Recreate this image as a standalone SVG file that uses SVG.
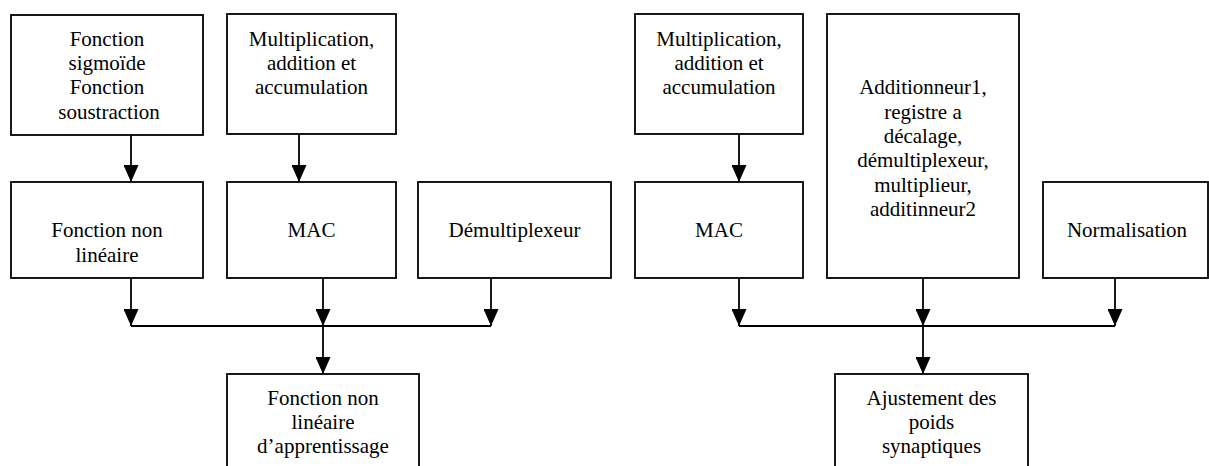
<svg xmlns="http://www.w3.org/2000/svg" width="1209" height="466" viewBox="0 0 1209 466">
  <style>
    .box { fill: #ffffff; stroke: #000000; stroke-width: 1.8; }
    .lbl { font-family: 'Liberation Serif', 'Times New Roman', Times, 'DejaVu Serif', serif; font-size: 21px; fill: #000000; text-anchor: middle; }
    .wire { fill: none; stroke: #000000; stroke-width: 1.8; }
    .arr { fill: none; stroke: #000000; stroke-width: 1.8; marker-end: url(#head); }
  </style>
  <defs>
    <marker id="head" markerUnits="userSpaceOnUse" viewBox="0 0 17 15" markerWidth="17" markerHeight="15" refX="17" refY="7.5" orient="auto">
      <path d="M0,0 L17,7.5 L0,15 Z" fill="#000000"/>
    </marker>
  </defs>
  <rect width="1209" height="466" fill="#ffffff"/>

  <!-- left chain -->
  <g id="sigmoide">
    <rect class="box" x="11" y="15" width="192" height="120"/>
    <text class="lbl"><tspan x="107" y="45.7">Fonction</tspan><tspan x="107" y="70">sigmoïde</tspan><tspan x="107" y="94.3">Fonction</tspan><tspan x="109" y="118.6">soustraction</tspan></text>
  </g>
  <g id="mac-ops-left">
    <rect class="box" x="227" y="14" width="169" height="120"/>
    <text class="lbl"><tspan x="311.5" y="45.7">Multiplication,</tspan><tspan x="311.5" y="70">addition et</tspan><tspan x="311.5" y="94.3">accumulation</tspan></text>
  </g>
  <g id="non-lineaire">
    <rect class="box" x="11" y="182" width="192" height="96"/>
    <text class="lbl"><tspan x="107" y="237.4">Fonction non</tspan><tspan x="107" y="261.7">linéaire</tspan></text>
  </g>
  <g id="mac-left">
    <rect class="box" x="227" y="182" width="169" height="96"/>
    <text class="lbl" x="311.5" y="237.4">MAC</text>
  </g>
  <g id="demux">
    <rect class="box" x="418" y="182" width="193" height="96"/>
    <text class="lbl" x="514.5" y="237.4">Démultiplexeur</text>
  </g>
  <g id="apprentissage">
    <rect class="box" x="227" y="374" width="192" height="110"/>
    <text class="lbl"><tspan x="323" y="404.5">Fonction non</tspan><tspan x="323" y="428.8">linéaire</tspan><tspan x="323" y="453.1">d’apprentissage</tspan></text>
  </g>

  <!-- right chain -->
  <g id="mac-ops-right">
    <rect class="box" x="635" y="14" width="168" height="120"/>
    <text class="lbl"><tspan x="719" y="45.7">Multiplication,</tspan><tspan x="719" y="70">addition et</tspan><tspan x="719" y="94.3">accumulation</tspan></text>
  </g>
  <g id="mac-right">
    <rect class="box" x="635" y="182" width="168" height="96"/>
    <text class="lbl" x="719" y="237.4">MAC</text>
  </g>
  <g id="additionneur">
    <rect class="box" x="827" y="14" width="192" height="264"/>
    <text class="lbl"><tspan x="923" y="94.3">Additionneur1,</tspan><tspan x="923" y="118.6">registre a</tspan><tspan x="923" y="142.9">décalage,</tspan><tspan x="923" y="167.2">démultiplexeur,</tspan><tspan x="923" y="191.5">multiplieur,</tspan><tspan x="923" y="215.8">additinneur2</tspan></text>
  </g>
  <g id="normalisation">
    <rect class="box" x="1043" y="182" width="165" height="96"/>
    <text class="lbl" x="1127" y="237.4">Normalisation</text>
  </g>
  <g id="ajustement">
    <rect class="box" x="835" y="374" width="193" height="110"/>
    <text class="lbl"><tspan x="931.5" y="404.5">Ajustement des</tspan><tspan x="931.5" y="428.8">poids</tspan><tspan x="931.5" y="453.1">synaptiques</tspan></text>
  </g>

  <!-- connectors -->
  <g id="connectors">
    <line class="arr" x1="131" y1="135" x2="131" y2="182"/>
    <line class="arr" x1="299" y1="134" x2="299" y2="182"/>
    <line class="arr" x1="131" y1="278" x2="131" y2="326"/>
    <line class="arr" x1="323" y1="278" x2="323" y2="326"/>
    <line class="arr" x1="491" y1="278" x2="491" y2="326"/>
    <line class="wire" x1="131" y1="326" x2="491" y2="326"/>
    <line class="arr" x1="323" y1="326" x2="323" y2="374"/>

    <line class="arr" x1="739" y1="134" x2="739" y2="182"/>
    <line class="arr" x1="739" y1="278" x2="739" y2="326"/>
    <line class="arr" x1="923" y1="278" x2="923" y2="326"/>
    <line class="arr" x1="1115" y1="278" x2="1115" y2="326"/>
    <line class="wire" x1="739" y1="326" x2="1115" y2="326"/>
    <line class="arr" x1="923" y1="326" x2="923" y2="374"/>
  </g>
</svg>
